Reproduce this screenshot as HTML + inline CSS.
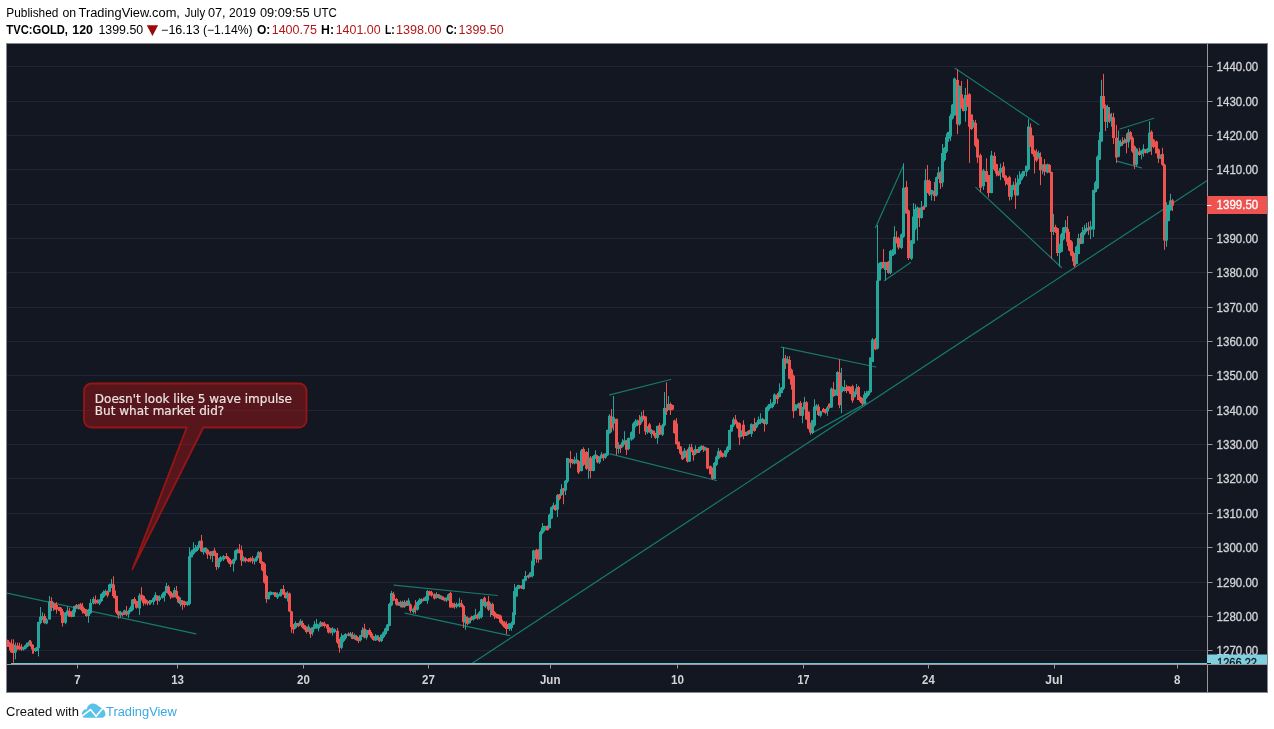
<!DOCTYPE html>
<html lang="en"><head><meta charset="utf-8"><title>TVC:GOLD chart</title>
<style>html,body{margin:0;padding:0;background:#fff}body{width:1274px;height:729px;position:relative;overflow:hidden}</style></head>
<body>
<svg width="1274" height="729" viewBox="0 0 1274 729" style="position:absolute;left:0;top:0;will-change:transform">
<rect x="6" y="43" width="1262" height="650" fill="#85878c"/>
<rect x="7" y="44" width="1260" height="648" fill="#131722"/>
<path d="M7 66.5H1207M7 101.5H1207M7 135.5H1207M7 169.5H1207M7 204.5H1207M7 238.5H1207M7 272.5H1207M7 307.5H1207M7 341.5H1207M7 375.5H1207M7 410.5H1207M7 444.5H1207M7 478.5H1207M7 513.5H1207M7 547.5H1207M7 582.5H1207M7 616.5H1207M7 650.5H1207" stroke="#212535" stroke-width="1" fill="none"/>
<clipPath id="pane"><rect x="7" y="44" width="1200" height="620"/></clipPath>
<g clip-path="url(#pane)">
<g stroke="#167a6c" stroke-width="1.2" fill="none" stroke-linecap="round">
<path d="M7 593.2L196 633.8"/>
<path d="M394 585.1L497.3 595.5"/>
<path d="M405 613.2L509.7 635.6"/>
<path d="M609.7 394.8L670.7 379.5"/>
<path d="M610 453.9L716.5 480.5"/>
<path d="M781.2 347.1L875.9 367"/>
<path d="M813.3 432.4L866.9 402.9"/>
<path d="M875.4 227.7L903.3 165.8"/>
<path d="M884.6 280.5L910.6 262.5"/>
<path d="M955.1 68.3L1038.9 124.7"/>
<path d="M975.8 187.4L1061.5 267.5"/>
<path d="M1119.9 129L1153.9 118.3"/>
<path d="M1116.8 161.2L1141.4 167.8"/>
<path d="M472.6 663L1206.5 181"/>
</g>
<path d="M11 663.5H1207" stroke="#6cc5d8" stroke-width="1"/>
<g fill="none" stroke-width="1">
<path d="M7.5 639.7V646.9M9.5 641.5V650.3M11.5 639.3V652.9M13.5 639.3V662.6" stroke="#ef5350" fill="none"/>
<path d="M6 640v6.9h3v-6.9zM8 642.7v4.1h3v-4.1zM10 643.4v8.9h3v-8.9zM12 644.8v8.2h3v-8.2z" fill="#ef5350" stroke="none"/>
<path d="M15.5 642.7V659.2" stroke="#26a69a" fill="none"/>
<path d="M14 646.8v5.5h3v-5.5z" fill="#26a69a" stroke="none"/>
<path d="M17.5 642.7V649.8M19.5 642.7V650.2M21.5 644.1V651" stroke="#ef5350" fill="none"/>
<path d="M16 645.5v3.4h3v-3.4zM18 646.2v3.2h3v-3.2zM20 646.8v2.7h3v-2.7z" fill="#ef5350" stroke="none"/>
<path d="M23.5 646.7V650.5M25.5 644.4V649.4M27.5 642.7V647.2M29.5 640V645.6" stroke="#26a69a" fill="none"/>
<path d="M22 647.5v2.1h3v-2.1zM24 645.2v3.3h3v-3.3zM26 642.7v3.8h3v-3.8zM28 641.4v2.7h3v-2.7z" fill="#26a69a" stroke="none"/>
<path d="M30.5 640V646.8M32.5 644.1V653.7M33.5 646.9V653.7" stroke="#ef5350" fill="none"/>
<path d="M29 641.4v4.1h3v-4.1zM31 644.8v4.8h3v-4.8zM32 648.2v2.7h3v-2.7z" fill="#ef5350" stroke="none"/>
<path d="M35.5 647.7V652M37.5 646.2V651.1M38.5 621.8V656.4M40.5 607V624.3M42.5 612.3V620.2" stroke="#26a69a" fill="none"/>
<path d="M34 648.2v2.7h3v-2.7zM36 646.8v2.7h3v-2.7zM37 622.1v26.1h3v-26.1zM39 616.7v6.2h3v-6.2zM41 616v3.4h3v-3.4z" fill="#26a69a" stroke="none"/>
<path d="M44.5 613.6V623.7" stroke="#ef5350" fill="none"/>
<path d="M43 616v6.9h3v-6.9z" fill="#ef5350" stroke="none"/>
<path d="M46.5 618V624.3M49.5 596.1V619.4" stroke="#26a69a" fill="none"/>
<path d="M45 619.4v4.1h3v-4.1zM48 601.6v17.8h3v-17.8z" fill="#26a69a" stroke="none"/>
<path d="M51.5 597.2V611.2" stroke="#ef5350" fill="none"/>
<path d="M50 600.9v6.9h3v-6.9z" fill="#ef5350" stroke="none"/>
<path d="M53.5 602.1V610.9" stroke="#26a69a" fill="none"/>
<path d="M52 603.6v4.1h3v-4.1z" fill="#26a69a" stroke="none"/>
<path d="M54.5 603.3V609.8M56.5 602.2V613.6M59.5 606.8V611.4M61.5 607.6V616.2M62.5 610.9V626.5" stroke="#ef5350" fill="none"/>
<path d="M53 603.6v4.8h3v-4.8zM55 605v4.8h3v-4.8zM58 607v4.1h3v-4.1zM60 609.1v6.2h3v-6.2zM61 611.2v11.7h3v-11.7z" fill="#ef5350" stroke="none"/>
<path d="M65.5 612V624.2M67.5 606.4V615.6" stroke="#26a69a" fill="none"/>
<path d="M64 612.5v10.3h3v-10.3zM66 610.5v4.1h3v-4.1z" fill="#26a69a" stroke="none"/>
<path d="M69.5 608.1V616.7M71.5 611.2V617.3" stroke="#ef5350" fill="none"/>
<path d="M68 611.2v5.5h3v-5.5zM70 611.9v4.8h3v-4.8z" fill="#ef5350" stroke="none"/>
<path d="M73.5 608.9V617M74.5 605.8V613.7" stroke="#26a69a" fill="none"/>
<path d="M72 609.8v6.9h3v-6.9zM73 606v6.6h3v-6.6z" fill="#26a69a" stroke="none"/>
<path d="M76.5 604V608.9" stroke="#ef5350" fill="none"/>
<path d="M75 605v2.7h3v-2.7z" fill="#ef5350" stroke="none"/>
<path d="M78.5 603.9V609.7" stroke="#26a69a" fill="none"/>
<path d="M77 605.4v3h3v-3z" fill="#26a69a" stroke="none"/>
<path d="M80.5 602.9V609.8M82.5 602.9V613.6M84.5 607.9V613.9M86.5 609.1V616.9" stroke="#ef5350" fill="none"/>
<path d="M79 604.3v4.8h3v-4.8zM81 606.4v4.8h3v-4.8zM83 609.1v4.1h3v-4.1zM85 610.5v5.5h3v-5.5z" fill="#ef5350" stroke="none"/>
<path d="M88.5 608.8V622.8M90.5 599.1V614M93.5 596.8V604.4" stroke="#26a69a" fill="none"/>
<path d="M87 609.8v6.2h3v-6.2zM89 602.9v10.3h3v-10.3zM92 599.1v4.5h3v-4.5z" fill="#26a69a" stroke="none"/>
<path d="M95.5 595.4V604.2M97.5 599.3V603.6" stroke="#ef5350" fill="none"/>
<path d="M94 599.9v2.7h3v-2.7zM96 600.5v2.7h3v-2.7z" fill="#ef5350" stroke="none"/>
<path d="M99.5 599.4V605.2M101.5 593.3V601.9M103.5 590.4V598M105.5 589.4V595.7" stroke="#26a69a" fill="none"/>
<path d="M98 599.5v4.1h3v-4.1zM100 594v6.9h3v-6.9zM102 592v4.8h3v-4.8zM104 590.9v3.8h3v-3.8z" fill="#26a69a" stroke="none"/>
<path d="M107.5 590.5V597.4" stroke="#ef5350" fill="none"/>
<path d="M106 591.3v4.1h3v-4.1z" fill="#ef5350" stroke="none"/>
<path d="M109.5 583.8V592.4M111.5 578.9V588" stroke="#26a69a" fill="none"/>
<path d="M108 584.4v7.3h3v-7.3zM110 583.7v4.1h3v-4.1z" fill="#26a69a" stroke="none"/>
<path d="M113.5 576.2V598.1M114.5 589.1V598.5M116.5 595.6V614M118.5 610.6V618.7" stroke="#ef5350" fill="none"/>
<path d="M112 584.4v11.7h3v-11.7zM113 590.6v6.9h3v-6.9zM115 596.1v16.5h3v-16.5zM117 611.2v4.1h3v-4.1z" fill="#ef5350" stroke="none"/>
<path d="M120.5 610.9V617.3" stroke="#26a69a" fill="none"/>
<path d="M119 611.9v3.4h3v-3.4z" fill="#26a69a" stroke="none"/>
<path d="M122.5 612.3V616.5" stroke="#ef5350" fill="none"/>
<path d="M121 613.2v1.8h3v-1.8z" fill="#ef5350" stroke="none"/>
<path d="M124.5 609.7V615.1" stroke="#26a69a" fill="none"/>
<path d="M123 610.5v3.2h3v-3.2z" fill="#26a69a" stroke="none"/>
<path d="M126.5 606V616" stroke="#ef5350" fill="none"/>
<path d="M125 611.2v3.4h3v-3.4z" fill="#ef5350" stroke="none"/>
<path d="M128.5 609.7V617.8M130.5 606.2V612.3M132.5 599.3V611.1" stroke="#26a69a" fill="none"/>
<path d="M127 611.2v3h3v-3zM129 607.7v4.1h3v-4.1zM131 599.5v10.3h3v-10.3z" fill="#26a69a" stroke="none"/>
<path d="M134.5 597.2V604M136.5 600.7V608.6" stroke="#ef5350" fill="none"/>
<path d="M133 599.1v3.8h3v-3.8zM135 600.9v6.9h3v-6.9z" fill="#ef5350" stroke="none"/>
<path d="M139.5 593.3V615" stroke="#26a69a" fill="none"/>
<path d="M138 595.4v13h3v-13z" fill="#26a69a" stroke="none"/>
<path d="M141.5 587.2V600.7M143.5 595.4V605.7M145.5 598.5V604.6M147.5 600.2V605.4M149.5 600.5V604.9" stroke="#ef5350" fill="none"/>
<path d="M140 594.7v4.8h3v-4.8zM142 596.1v6.9h3v-6.9zM144 599.5v4.1h3v-4.1zM146 600.9v2.7h3v-2.7zM148 601.3v2.3h3v-2.3z" fill="#ef5350" stroke="none"/>
<path d="M150.5 600V604.7M153.5 597.1V604.9M155.5 592.2V600.6" stroke="#26a69a" fill="none"/>
<path d="M149 600v3.3h3v-3.3zM152 598.3v3.8h3v-3.8zM154 595v4.1h3v-4.1z" fill="#26a69a" stroke="none"/>
<path d="M157.5 595.5V604.9" stroke="#ef5350" fill="none"/>
<path d="M156 595.8v4.9h3v-4.9z" fill="#ef5350" stroke="none"/>
<path d="M159.5 595.4V601.6M162.5 592.6V598.8M164.5 591.3V601.6M166.5 583V592.9" stroke="#26a69a" fill="none"/>
<path d="M158 596.7v3.3h3v-3.3zM161 594.2v3.6h3v-3.6zM163 591.7v4.1h3v-4.1zM165 586v6.6h3v-6.6z" fill="#26a69a" stroke="none"/>
<path d="M168.5 585.1V594.8M170.5 591.1V599.1M172.5 593.1V597.5" stroke="#ef5350" fill="none"/>
<path d="M167 586.8v6.6h3v-6.6zM169 591.7v4.9h3v-4.9zM171 594.2v3.3h3v-3.3z" fill="#ef5350" stroke="none"/>
<path d="M174.5 587.6V597.4" stroke="#26a69a" fill="none"/>
<path d="M173 590.1v5.8h3v-5.8z" fill="#26a69a" stroke="none"/>
<path d="M176.5 586V598.8M178.5 595.7V603.2" stroke="#ef5350" fill="none"/>
<path d="M175 590.9v6.6h3v-6.6zM177 596.7v5.8h3v-5.8z" fill="#ef5350" stroke="none"/>
<path d="M180.5 597.5V606.5" stroke="#26a69a" fill="none"/>
<path d="M179 600v4.1h3v-4.1z" fill="#26a69a" stroke="none"/>
<path d="M182.5 600V609.8M184.5 600.7V607.4" stroke="#ef5350" fill="none"/>
<path d="M181 600.8v4.1h3v-4.1zM183 601.6v3.3h3v-3.3z" fill="#ef5350" stroke="none"/>
<path d="M187.5 601.3V606M189.5 547.3V605.3M191.5 549.9V557.4M193.5 542.3V554.9M195.5 544.8V552.4M197.5 545.1V551.1M199.5 540.6V548.1" stroke="#26a69a" fill="none"/>
<path d="M186 601.6v3.3h3v-3.3zM188 556.3v47.7h3v-47.7zM190 551.4v5.8h3v-5.8zM192 549.4v4.4h3v-4.4zM194 547.8v4h3v-4zM196 546.5v3.6h3v-3.6zM198 541.2v6.9h3v-6.9z" fill="#26a69a" stroke="none"/>
<path d="M201.5 534.9V552.1" stroke="#ef5350" fill="none"/>
<path d="M200 540.7v10.7h3v-10.7z" fill="#ef5350" stroke="none"/>
<path d="M203.5 547.7V554.7M205.5 547.3V552.9" stroke="#26a69a" fill="none"/>
<path d="M202 548.4v3.8h3v-3.8zM204 547.8v3.6h3v-3.6z" fill="#26a69a" stroke="none"/>
<path d="M207.5 548.8V558.8M210.5 551.3V559.3" stroke="#ef5350" fill="none"/>
<path d="M206 549.8v4.6h3v-4.6zM209 551.4v4.1h3v-4.1z" fill="#ef5350" stroke="none"/>
<path d="M212.5 550.8V562.1" stroke="#26a69a" fill="none"/>
<path d="M211 551.4v4.6h3v-4.6z" fill="#26a69a" stroke="none"/>
<path d="M214.5 547.8V556.1M216.5 552.7V570" stroke="#ef5350" fill="none"/>
<path d="M213 550.6v4.1h3v-4.1zM215 553v14h3v-14z" fill="#ef5350" stroke="none"/>
<path d="M218.5 558.2V568.5M220.5 556.1V562.2M223.5 555.1V561.1" stroke="#26a69a" fill="none"/>
<path d="M217 559.6v7.4h3v-7.4zM219 557.2v4.1h3v-4.1zM222 556.3v3.3h3v-3.3z" fill="#26a69a" stroke="none"/>
<path d="M226.5 553V559.3M228.5 556.6V563.5M230.5 558.9V567" stroke="#ef5350" fill="none"/>
<path d="M225 556v2.8h3v-2.8zM227 557.7v4.4h3v-4.4zM229 560.5v3.8h3v-3.8z" fill="#ef5350" stroke="none"/>
<path d="M233.5 558.7V571.6M235.5 549.7V561M237.5 548.4V553.6" stroke="#26a69a" fill="none"/>
<path d="M232 559.6v4.1h3v-4.1zM234 550.6v9.1h3v-9.1zM236 549.4v3.6h3v-3.6z" fill="#26a69a" stroke="none"/>
<path d="M239.5 544V553.6M241.5 545.6V565.9" stroke="#ef5350" fill="none"/>
<path d="M238 549.8v3.3h3v-3.3zM240 550.6v9.9h3v-9.9z" fill="#ef5350" stroke="none"/>
<path d="M243.5 556.2V561.5" stroke="#26a69a" fill="none"/>
<path d="M242 557.7v3.6h3v-3.6z" fill="#26a69a" stroke="none"/>
<path d="M245.5 557.2V562.6M248.5 558V562.2M250.5 557.2V562.2M252.5 556V563.7" stroke="#ef5350" fill="none"/>
<path d="M244 558.3v2.6h3v-2.6zM247 559.3v2.3h3v-2.3zM249 558.3v2.6h3v-2.6zM251 558.3v2.6h3v-2.6z" fill="#ef5350" stroke="none"/>
<path d="M254.5 558.6V564.6M256.5 555.6V561.7M258.5 551.1V558.2" stroke="#26a69a" fill="none"/>
<path d="M253 558.8v2.8h3v-2.8zM255 557.2v3.3h3v-3.3zM257 552.2v5.4h3v-5.4z" fill="#26a69a" stroke="none"/>
<path d="M260.5 551V563.8M262.5 561.1V571.3M264.5 562.5V583.6M266.5 575.1V602.9" stroke="#ef5350" fill="none"/>
<path d="M259 552.2v10.7h3v-10.7zM261 562.1v8.2h3v-8.2zM263 563.7v18.9h3v-18.9zM265 576.1v23h3v-23z" fill="#ef5350" stroke="none"/>
<path d="M268.5 592.1V599.3M270.5 591.4V595.5M273.5 592.1V595.2" stroke="#26a69a" fill="none"/>
<path d="M267 592.6v6.6h3v-6.6zM269 591.7v3.3h3v-3.3zM272 592.2v2.3h3v-2.3z" fill="#26a69a" stroke="none"/>
<path d="M275.5 591.9V596.8" stroke="#ef5350" fill="none"/>
<path d="M274 592.6v4.1h3v-4.1z" fill="#ef5350" stroke="none"/>
<path d="M277.5 592.4V599.1M280.5 591.6V596.6M281.5 588.8V595.3" stroke="#26a69a" fill="none"/>
<path d="M276 593.9v3.6h3v-3.6zM279 592.2v4h3v-4zM280 589.3v4.9h3v-4.9z" fill="#26a69a" stroke="none"/>
<path d="M283.5 585.1V594.8M285.5 592.5V598.6" stroke="#ef5350" fill="none"/>
<path d="M282 588.9v5.6h3v-5.6zM284 592.6v5.3h3v-5.3z" fill="#ef5350" stroke="none"/>
<path d="M287.5 591.2V601.6" stroke="#26a69a" fill="none"/>
<path d="M286 593.4v4.9h3v-4.9z" fill="#26a69a" stroke="none"/>
<path d="M289.5 592.5V611.8M291.5 610.9V632.9M293.5 624.1V633.7" stroke="#ef5350" fill="none"/>
<path d="M288 593.4v18.1h3v-18.1zM290 611.5v15.6h3v-15.6zM292 624.7v4.9h3v-4.9z" fill="#ef5350" stroke="none"/>
<path d="M295.5 621.4V628.8" stroke="#26a69a" fill="none"/>
<path d="M294 623v4.9h3v-4.9z" fill="#26a69a" stroke="none"/>
<path d="M298.5 622.9V627" stroke="#ef5350" fill="none"/>
<path d="M297 623v3.3h3v-3.3z" fill="#ef5350" stroke="none"/>
<path d="M300.5 619V625.2" stroke="#26a69a" fill="none"/>
<path d="M299 621.1v4.1h3v-4.1z" fill="#26a69a" stroke="none"/>
<path d="M302.5 620.4V628.3M304.5 624.8V630.2M306.5 626.4V633.4" stroke="#ef5350" fill="none"/>
<path d="M301 623.1v4.1h3v-4.1zM303 625.2v4.1h3v-4.1zM305 627.2v4.8h3v-4.8z" fill="#ef5350" stroke="none"/>
<path d="M308.5 624.5V631.8" stroke="#26a69a" fill="none"/>
<path d="M307 626.6v4.1h3v-4.1z" fill="#26a69a" stroke="none"/>
<path d="M310.5 628.1V637.9" stroke="#ef5350" fill="none"/>
<path d="M309 628.6v5.5h3v-5.5z" fill="#ef5350" stroke="none"/>
<path d="M312.5 627.1V635.5M314.5 621.1V629.5M316.5 619V628.9M318.5 624.4V631.4M320.5 621.1V627.1" stroke="#26a69a" fill="none"/>
<path d="M311 627.2v5.2h3v-5.2zM313 624.5v4.1h3v-4.1zM315 623.8v4.1h3v-4.1zM317 625.2v3.4h3v-3.4zM319 622.4v4.1h3v-4.1z" fill="#26a69a" stroke="none"/>
<path d="M322.5 622.1V626.4M324.5 621.8V627.6M327.5 624V629.3M328.5 626.9V633.5M330.5 627.8V633.5" stroke="#ef5350" fill="none"/>
<path d="M321 622.4v2.7h3v-2.7zM323 623.4v2.7h3v-2.7zM326 624.5v4.1h3v-4.1zM327 627.2v5.2h3v-5.2zM329 628.6v3.8h3v-3.8z" fill="#ef5350" stroke="none"/>
<path d="M332.5 627.2V635.5M334.5 628.5V633.2" stroke="#26a69a" fill="none"/>
<path d="M331 628.6v3.8h3v-3.8zM333 629.3v2.7h3v-2.7z" fill="#26a69a" stroke="none"/>
<path d="M337.5 627.9V643.8M339.5 638.7V652.6" stroke="#ef5350" fill="none"/>
<path d="M336 630.7v11.7h3v-11.7zM338 638.9v8.9h3v-8.9z" fill="#ef5350" stroke="none"/>
<path d="M341.5 633.4V649.2M343.5 634.9V642.3M345.5 633.2V639.6" stroke="#26a69a" fill="none"/>
<path d="M340 636.8v11h3v-11zM342 635.2v5.8h3v-5.8zM344 634.1v4.1h3v-4.1z" fill="#26a69a" stroke="none"/>
<path d="M348.5 632.4V636.4" stroke="#ef5350" fill="none"/>
<path d="M347 633.8v1.9h3v-1.9z" fill="#ef5350" stroke="none"/>
<path d="M350.5 631.9V636.9" stroke="#26a69a" fill="none"/>
<path d="M349 633.4v2.7h3v-2.7z" fill="#26a69a" stroke="none"/>
<path d="M352.5 632V639.2" stroke="#ef5350" fill="none"/>
<path d="M351 634.8v4.1h3v-4.1z" fill="#ef5350" stroke="none"/>
<path d="M354.5 633.6V639.6" stroke="#26a69a" fill="none"/>
<path d="M353 635.2v3.3h3v-3.3z" fill="#26a69a" stroke="none"/>
<path d="M356.5 635V640.5M358.5 637.3V643" stroke="#ef5350" fill="none"/>
<path d="M355 636.2v4.1h3v-4.1zM357 637.5v3.4h3v-3.4z" fill="#ef5350" stroke="none"/>
<path d="M360.5 634.9V641.5M362.5 627.2V636.8" stroke="#26a69a" fill="none"/>
<path d="M359 635.2v5.1h3v-5.1zM361 630v6.2h3v-6.2z" fill="#26a69a" stroke="none"/>
<path d="M364.5 623.8V638.4" stroke="#ef5350" fill="none"/>
<path d="M363 628.6v8.9h3v-8.9z" fill="#ef5350" stroke="none"/>
<path d="M366.5 629.8V639.6" stroke="#26a69a" fill="none"/>
<path d="M365 630v7.5h3v-7.5z" fill="#26a69a" stroke="none"/>
<path d="M369.5 628.3V635.3M371.5 631.9V638.5M373.5 635.7V640.8" stroke="#ef5350" fill="none"/>
<path d="M368 630v4.8h3v-4.8zM370 633.4v4.1h3v-4.1zM372 636.2v3.7h3v-3.7z" fill="#ef5350" stroke="none"/>
<path d="M375.5 634.1V641M377.5 635.1V640.2" stroke="#26a69a" fill="none"/>
<path d="M374 636.8v3.8h3v-3.8zM376 635.5v4.1h3v-4.1z" fill="#26a69a" stroke="none"/>
<path d="M379.5 637.1V642.1" stroke="#ef5350" fill="none"/>
<path d="M378 637.5v3.7h3v-3.7z" fill="#ef5350" stroke="none"/>
<path d="M381.5 634.4V642.1M383.5 631.3V638.3M385.5 627.6V635.2M387.5 624.1V631.3M389.5 602.7V626.2M391.5 590.9V606.3" stroke="#26a69a" fill="none"/>
<path d="M380 634.8v6.2h3v-6.2zM382 632.5v4.4h3v-4.4zM384 628.6v5.5h3v-5.5zM386 624.5v6.2h3v-6.2zM388 603.9v22h3v-22zM390 592.9v12.3h3v-12.3z" fill="#26a69a" stroke="none"/>
<path d="M393.5 591.8V601M396.5 597.9V605.7M398.5 601.8V605.6" stroke="#ef5350" fill="none"/>
<path d="M392 594.3v6.2h3v-6.2zM395 599.1v5.5h3v-5.5zM397 601.9v3.7h3v-3.7z" fill="#ef5350" stroke="none"/>
<path d="M400.5 600.6V607.3" stroke="#26a69a" fill="none"/>
<path d="M399 601.9v4.1h3v-4.1z" fill="#26a69a" stroke="none"/>
<path d="M402.5 600.8V607.4" stroke="#ef5350" fill="none"/>
<path d="M401 601.9v5.5h3v-5.5z" fill="#ef5350" stroke="none"/>
<path d="M404.5 600.1V607.8" stroke="#26a69a" fill="none"/>
<path d="M403 601.9v4.8h3v-4.8z" fill="#26a69a" stroke="none"/>
<path d="M406.5 600.5V606" stroke="#ef5350" fill="none"/>
<path d="M405 601.9v4.1h3v-4.1z" fill="#ef5350" stroke="none"/>
<path d="M408.5 598.1V605.7" stroke="#26a69a" fill="none"/>
<path d="M407 600.5v4.8h3v-4.8z" fill="#26a69a" stroke="none"/>
<path d="M410.5 603.4V612.8" stroke="#ef5350" fill="none"/>
<path d="M409 604.6v6.2h3v-6.2z" fill="#ef5350" stroke="none"/>
<path d="M413.5 607.4V613.8" stroke="#26a69a" fill="none"/>
<path d="M412 608.7v3.4h3v-3.4z" fill="#26a69a" stroke="none"/>
<path d="M415.5 600.1V613.8" stroke="#ef5350" fill="none"/>
<path d="M414 605.3v4.8h3v-4.8z" fill="#ef5350" stroke="none"/>
<path d="M417.5 601.2V610.7M419.5 598.1V605.1M421.5 598.3V603.4" stroke="#26a69a" fill="none"/>
<path d="M416 601.9v7.5h3v-7.5zM418 599.8v4.1h3v-4.1zM420 599.1v2.7h3v-2.7z" fill="#26a69a" stroke="none"/>
<path d="M423.5 597.6V601.2" stroke="#ef5350" fill="none"/>
<path d="M422 599.1v1.8h3v-1.8z" fill="#ef5350" stroke="none"/>
<path d="M425.5 596.2V601M427.5 589.9V603.9" stroke="#26a69a" fill="none"/>
<path d="M424 597.3v3.6h3v-3.6zM426 590.9v9.6h3v-9.6z" fill="#26a69a" stroke="none"/>
<path d="M429.5 590.8V595.7M431.5 590.8V596.7M434.5 593.3V599.5" stroke="#ef5350" fill="none"/>
<path d="M428 591.3v3.7h3v-3.7zM430 592.2v3.2h3v-3.2zM433 594.3v4.1h3v-4.1z" fill="#ef5350" stroke="none"/>
<path d="M436.5 592.2V598.6" stroke="#26a69a" fill="none"/>
<path d="M435 594.3v3.4h3v-3.4z" fill="#26a69a" stroke="none"/>
<path d="M438.5 594.2V598.2" stroke="#ef5350" fill="none"/>
<path d="M437 594.3v3.4h3v-3.4z" fill="#ef5350" stroke="none"/>
<path d="M440.5 595.2V599.2" stroke="#26a69a" fill="none"/>
<path d="M439 595.4v3.7h3v-3.7z" fill="#26a69a" stroke="none"/>
<path d="M442.5 596.3V600.1M444.5 597.7V601.4" stroke="#ef5350" fill="none"/>
<path d="M441 596.4v3.4h3v-3.4zM443 597.7v2.7h3v-2.7z" fill="#ef5350" stroke="none"/>
<path d="M446.5 597.3V602.1M448.5 593.7V600.7" stroke="#26a69a" fill="none"/>
<path d="M445 597.7v2.7h3v-2.7zM447 594.6v4.5h3v-4.5z" fill="#26a69a" stroke="none"/>
<path d="M450.5 591.7V607.6M452.5 602.7V607.8M454.5 602.6V608.8" stroke="#ef5350" fill="none"/>
<path d="M449 593v14.4h3v-14.4zM451 603.3v4.1h3v-4.1zM453 604v2.5h3v-2.5z" fill="#ef5350" stroke="none"/>
<path d="M456.5 602.5V608.3M459.5 597.8V607.4" stroke="#26a69a" fill="none"/>
<path d="M455 604v2.7h3v-2.7zM458 603.3v3.2h3v-3.2z" fill="#26a69a" stroke="none"/>
<path d="M461.5 599.9V607.4M463.5 604.8V628" stroke="#ef5350" fill="none"/>
<path d="M460 603.3v3.4h3v-3.4zM462 606.1v15.8h3v-15.8z" fill="#ef5350" stroke="none"/>
<path d="M465.5 615V629.8" stroke="#26a69a" fill="none"/>
<path d="M464 616.4v6.2h3v-6.2z" fill="#26a69a" stroke="none"/>
<path d="M467.5 616.5V625.3" stroke="#ef5350" fill="none"/>
<path d="M466 617.7v6.2h3v-6.2z" fill="#ef5350" stroke="none"/>
<path d="M469.5 617.8V623.4" stroke="#26a69a" fill="none"/>
<path d="M468 619.1v4.1h3v-4.1z" fill="#26a69a" stroke="none"/>
<path d="M471.5 615.7V620.7" stroke="#ef5350" fill="none"/>
<path d="M470 617v2.7h3v-2.7z" fill="#ef5350" stroke="none"/>
<path d="M473.5 615.5V620.6M475.5 608.8V618.9" stroke="#26a69a" fill="none"/>
<path d="M472 616.1v3.3h3v-3.3zM474 614.7v3.3h3v-3.3z" fill="#26a69a" stroke="none"/>
<path d="M477.5 613.6V619.8" stroke="#ef5350" fill="none"/>
<path d="M476 615.3v3.2h3v-3.2z" fill="#ef5350" stroke="none"/>
<path d="M479.5 611V619.3M481.5 598.8V618.5" stroke="#26a69a" fill="none"/>
<path d="M478 612.2v5.5h3v-5.5zM480 599.2v17.8h3v-17.8z" fill="#26a69a" stroke="none"/>
<path d="M484.5 596.5V606.5" stroke="#ef5350" fill="none"/>
<path d="M483 597.8v8.2h3v-8.2z" fill="#ef5350" stroke="none"/>
<path d="M485.5 601.3V608.1" stroke="#26a69a" fill="none"/>
<path d="M484 601.9v4.5h3v-4.5z" fill="#26a69a" stroke="none"/>
<path d="M488.5 596V611" stroke="#ef5350" fill="none"/>
<path d="M487 601.3v8.2h3v-8.2z" fill="#ef5350" stroke="none"/>
<path d="M490.5 602.6V617" stroke="#26a69a" fill="none"/>
<path d="M489 605.4v4.1h3v-4.1z" fill="#26a69a" stroke="none"/>
<path d="M492.5 602.6V615.4M494.5 611V619.1M496.5 613.5V618.4M498.5 614.3V619M500.5 614.7V623.5M502.5 619.6V625.9M504.5 621.1V628M506.5 621.2V634.2" stroke="#ef5350" fill="none"/>
<path d="M491 604v11h3v-11zM493 612.2v4.1h3v-4.1zM495 613.9v3.6h3v-3.6zM497 614.7v3.7h3v-3.7zM499 615.7v6.9h3v-6.9zM501 621.2v3.4h3v-3.4zM503 622.5v4.8h3v-4.8zM505 623.9v5.1h3v-5.1z" fill="#ef5350" stroke="none"/>
<path d="M509.5 623.1V630.8M511.5 621.7V630.8M513.5 611.3V625M514.5 584.1V616.1M516.5 586.4V596.8M518.5 584.7V589.2" stroke="#26a69a" fill="none"/>
<path d="M508 623.2v5.8h3v-5.8zM510 623.2v4.8h3v-4.8zM512 612.2v12.3h3v-12.3zM513 591v24h3v-24zM515 587.5v8.9h3v-8.9zM517 585.1v3.8h3v-3.8z" fill="#26a69a" stroke="none"/>
<path d="M521.5 585.2V589" stroke="#ef5350" fill="none"/>
<path d="M520 585.5v2.7h3v-2.7z" fill="#ef5350" stroke="none"/>
<path d="M523.5 578.9V589.6M525.5 571.1V581.4" stroke="#26a69a" fill="none"/>
<path d="M522 579.3v9.6h3v-9.6zM524 575.9v4.8h3v-4.8z" fill="#26a69a" stroke="none"/>
<path d="M528.5 574.4V578.6" stroke="#ef5350" fill="none"/>
<path d="M527 575.2v2.2h3v-2.2z" fill="#ef5350" stroke="none"/>
<path d="M530.5 572.1V577.3M532.5 560V577.4M533.5 549.8V565.9" stroke="#26a69a" fill="none"/>
<path d="M529 572.4v4.4h3v-4.4zM531 560.8v15.1h3v-15.1zM532 550.5v15.1h3v-15.1z" fill="#26a69a" stroke="none"/>
<path d="M536.5 548.8V562.8M538.5 549.1V562.8" stroke="#ef5350" fill="none"/>
<path d="M535 549.8v8.9h3v-8.9zM537 555.3v4.1h3v-4.1z" fill="#ef5350" stroke="none"/>
<path d="M540.5 530.5V559.4M542.5 523V534.3M544.5 525.7V531.6" stroke="#26a69a" fill="none"/>
<path d="M539 532.1v27.3h3v-27.3zM541 527.5v5.3h3v-5.3zM543 526v4.2h3v-4.2z" fill="#26a69a" stroke="none"/>
<path d="M547.5 525.3V530.6" stroke="#ef5350" fill="none"/>
<path d="M546 526v4.2h3v-4.2z" fill="#ef5350" stroke="none"/>
<path d="M549.5 513.6V528.3M551.5 506.5V519.2M553.5 502.6V509.3" stroke="#26a69a" fill="none"/>
<path d="M548 514.7v13.6h3v-13.6zM550 507.2v11.3h3v-11.3zM552 505.2v3.9h3v-3.9z" fill="#26a69a" stroke="none"/>
<path d="M555.5 504.5V510.9" stroke="#ef5350" fill="none"/>
<path d="M554 505.7v4.5h3v-4.5z" fill="#ef5350" stroke="none"/>
<path d="M557.5 494.1V517" stroke="#26a69a" fill="none"/>
<path d="M556 495.1v14.3h3v-14.3z" fill="#26a69a" stroke="none"/>
<path d="M559.5 493.9V500.3" stroke="#ef5350" fill="none"/>
<path d="M558 494.3v4.5h3v-4.5z" fill="#ef5350" stroke="none"/>
<path d="M561.5 484.1V495.7" stroke="#26a69a" fill="none"/>
<path d="M560 489.1v6h3v-6z" fill="#26a69a" stroke="none"/>
<path d="M563.5 487.8V504.2" stroke="#ef5350" fill="none"/>
<path d="M562 488.3v3h3v-3z" fill="#ef5350" stroke="none"/>
<path d="M565.5 480.1V495.1M567.5 457.9V483" stroke="#26a69a" fill="none"/>
<path d="M564 480.8v9.8h3v-9.8zM566 458.1v23.4h3v-23.4z" fill="#26a69a" stroke="none"/>
<path d="M570.5 450.9V467.9M572.5 459.2V464.2" stroke="#ef5350" fill="none"/>
<path d="M569 458.9v3.8h3v-3.8zM571 459.6v3.3h3v-3.3z" fill="#ef5350" stroke="none"/>
<path d="M574.5 456.6V464.3M576.5 452.8V463.7" stroke="#26a69a" fill="none"/>
<path d="M573 460.4v3h3v-3zM575 459.6v3h3v-3z" fill="#26a69a" stroke="none"/>
<path d="M578.5 459.9V474" stroke="#ef5350" fill="none"/>
<path d="M577 461.1v11.3h3v-11.3z" fill="#ef5350" stroke="none"/>
<path d="M581.5 448.9V471.5" stroke="#26a69a" fill="none"/>
<path d="M580 450.5v20.5h3v-20.5z" fill="#26a69a" stroke="none"/>
<path d="M583.5 447.3V466M586.5 451.1V469.9" stroke="#ef5350" fill="none"/>
<path d="M582 448.9v15.8h3v-15.8zM585 452.1v16.6h3v-16.6z" fill="#ef5350" stroke="none"/>
<path d="M588.5 448.1V478.9" stroke="#26a69a" fill="none"/>
<path d="M587 458.4v7.9h3v-7.9z" fill="#26a69a" stroke="none"/>
<path d="M590.5 456V478.1" stroke="#ef5350" fill="none"/>
<path d="M589 457.6v13.4h3v-13.4z" fill="#ef5350" stroke="none"/>
<path d="M593.5 455.3V471.3M595.5 450.2V459" stroke="#26a69a" fill="none"/>
<path d="M592 456v15h3v-15zM594 454.4v3.9h3v-3.9z" fill="#26a69a" stroke="none"/>
<path d="M597.5 455.1V463.4" stroke="#ef5350" fill="none"/>
<path d="M596 456v6.3h3v-6.3z" fill="#ef5350" stroke="none"/>
<path d="M599.5 456.3V463.9M601.5 452.1V458.5" stroke="#26a69a" fill="none"/>
<path d="M598 457.6v4.7h3v-4.7zM600 454.4v3.9h3v-3.9z" fill="#26a69a" stroke="none"/>
<path d="M603.5 453.5V460.7" stroke="#ef5350" fill="none"/>
<path d="M602 454.4v3.6h3v-3.6z" fill="#ef5350" stroke="none"/>
<path d="M605.5 453.2V458.9M607.5 429.5V456M609.5 414.2V433.8" stroke="#26a69a" fill="none"/>
<path d="M604 453.6v3.9h3v-3.9zM606 430v25.2h3v-25.2zM608 415.8v17.4h3v-17.4z" fill="#26a69a" stroke="none"/>
<path d="M611.5 409.1V432.3" stroke="#ef5350" fill="none"/>
<path d="M610 416.5v11.8h3v-11.8z" fill="#ef5350" stroke="none"/>
<path d="M613.5 396V430.7" stroke="#26a69a" fill="none"/>
<path d="M612 417.3v6.3h3v-6.3z" fill="#26a69a" stroke="none"/>
<path d="M616.5 418.6V455.2" stroke="#ef5350" fill="none"/>
<path d="M615 418.9v29.2h3v-29.2z" fill="#ef5350" stroke="none"/>
<path d="M618.5 442.3V453.6" stroke="#26a69a" fill="none"/>
<path d="M617 445v3.9h3v-3.9z" fill="#26a69a" stroke="none"/>
<path d="M620.5 444.2V452.8" stroke="#ef5350" fill="none"/>
<path d="M619 445v3.2h3v-3.2z" fill="#ef5350" stroke="none"/>
<path d="M622.5 439.1V447.6M624.5 431.2V444.8" stroke="#26a69a" fill="none"/>
<path d="M621 442.3v4.3h3v-4.3zM623 440.2v3.9h3v-3.9z" fill="#26a69a" stroke="none"/>
<path d="M626.5 439.9V454.9" stroke="#ef5350" fill="none"/>
<path d="M625 441v8.7h3v-8.7z" fill="#ef5350" stroke="none"/>
<path d="M628.5 437.5V450.2M631.5 431.4V440.7M633.5 422.2V439.4M635.5 419.2V427.5M637.5 419.6V426.2" stroke="#26a69a" fill="none"/>
<path d="M627 437.9v11h3v-11zM630 432.3v7.1h3v-7.1zM632 423.6v14.2h3v-14.2zM634 421.3v4.7h3v-4.7zM636 420.5v4.4h3v-4.4z" fill="#26a69a" stroke="none"/>
<path d="M639.5 415V433.9" stroke="#ef5350" fill="none"/>
<path d="M638 420.5v4.7h3v-4.7z" fill="#ef5350" stroke="none"/>
<path d="M641.5 411.8V423.6" stroke="#26a69a" fill="none"/>
<path d="M640 416.5v5.5h3v-5.5z" fill="#26a69a" stroke="none"/>
<path d="M643.5 410.2V420.3M645.5 416.4V435" stroke="#ef5350" fill="none"/>
<path d="M642 415.8v3.2h3v-3.2zM644 416.5v15h3v-15z" fill="#ef5350" stroke="none"/>
<path d="M647.5 426.1V433.9" stroke="#26a69a" fill="none"/>
<path d="M646 427.6v4.7h3v-4.7z" fill="#26a69a" stroke="none"/>
<path d="M649.5 422.9V432.5" stroke="#ef5350" fill="none"/>
<path d="M648 424.4v7.9h3v-7.9z" fill="#ef5350" stroke="none"/>
<path d="M651.5 428.9V437.9" stroke="#26a69a" fill="none"/>
<path d="M650 430v3.9h3v-3.9z" fill="#26a69a" stroke="none"/>
<path d="M653.5 430.6V435.8M655.5 432.8V438.9" stroke="#ef5350" fill="none"/>
<path d="M652 430.7v3.6h3v-3.6zM654 433.1v4.7h3v-4.7z" fill="#ef5350" stroke="none"/>
<path d="M657.5 425.8V443.8" stroke="#26a69a" fill="none"/>
<path d="M656 426v11.8h3v-11.8z" fill="#26a69a" stroke="none"/>
<path d="M659.5 422.9V435.1" stroke="#ef5350" fill="none"/>
<path d="M658 425.2v9.5h3v-9.5z" fill="#ef5350" stroke="none"/>
<path d="M662.5 423.8V436.1M664.5 392.1V426.6" stroke="#26a69a" fill="none"/>
<path d="M661 425.2v9.5h3v-9.5zM663 407.9v17.4h3v-17.4z" fill="#26a69a" stroke="none"/>
<path d="M666.5 382.3V415" stroke="#ef5350" fill="none"/>
<path d="M665 407.9v3.5h3v-3.5z" fill="#ef5350" stroke="none"/>
<path d="M668.5 396V410" stroke="#26a69a" fill="none"/>
<path d="M667 403.9v5.5h3v-5.5z" fill="#26a69a" stroke="none"/>
<path d="M670.5 402.4V415M672.5 404.8V410.3M674.5 419.7V433.8M676.5 418.1V444.7M678.5 441.6V449.4M680.5 446V454.8M682.5 451.4V459.9" stroke="#ef5350" fill="none"/>
<path d="M669 403.9v6.3h3v-6.3zM671 405v4.4h3v-4.4zM673 420.5v12.6h3v-12.6zM675 423.6v20.5h3v-20.5zM677 441.8v7.1h3v-7.1zM679 446.5v7.1h3v-7.1zM681 452.1v7.1h3v-7.1z" fill="#ef5350" stroke="none"/>
<path d="M684.5 448.1V458.2" stroke="#26a69a" fill="none"/>
<path d="M683 450.5v7.1h3v-7.1z" fill="#26a69a" stroke="none"/>
<path d="M687.5 449V462.5" stroke="#ef5350" fill="none"/>
<path d="M686 450.5v11h3v-11z" fill="#ef5350" stroke="none"/>
<path d="M689.5 444.2V461.9" stroke="#26a69a" fill="none"/>
<path d="M688 447.3v14.2h3v-14.2z" fill="#26a69a" stroke="none"/>
<path d="M691.5 443.8V452.1M693.5 450.1V460.7" stroke="#ef5350" fill="none"/>
<path d="M690 447.3v4.7h3v-4.7zM692 450.5v4.7h3v-4.7z" fill="#ef5350" stroke="none"/>
<path d="M695.5 445.4V454.9" stroke="#26a69a" fill="none"/>
<path d="M694 448.9v4.7h3v-4.7z" fill="#26a69a" stroke="none"/>
<path d="M697.5 449V452.9" stroke="#ef5350" fill="none"/>
<path d="M696 449.7v3.2h3v-3.2z" fill="#ef5350" stroke="none"/>
<path d="M699.5 446.7V452.9M701.5 445.4V450.1" stroke="#26a69a" fill="none"/>
<path d="M698 447v4.3h3v-4.3zM700 445.7v3.2h3v-3.2z" fill="#26a69a" stroke="none"/>
<path d="M703.5 445.5V452.1" stroke="#ef5350" fill="none"/>
<path d="M702 446.5v3.2h3v-3.2z" fill="#ef5350" stroke="none"/>
<path d="M705.5 447.2V450.8" stroke="#26a69a" fill="none"/>
<path d="M704 447.3v3.2h3v-3.2z" fill="#26a69a" stroke="none"/>
<path d="M707.5 447.9V469.3M710.5 465.5V474.2M712.5 467.7V479.7" stroke="#ef5350" fill="none"/>
<path d="M706 448.1v20.5h3v-20.5zM709 466.3v7.9h3v-7.9zM711 467.8v11h3v-11z" fill="#ef5350" stroke="none"/>
<path d="M714.5 462V479.3M716.5 455.5V466M718.5 448.1V459.4" stroke="#26a69a" fill="none"/>
<path d="M713 463.1v15.8h3v-15.8zM715 456.8v7.9h3v-7.9zM717 451.3v7.1h3v-7.1z" fill="#26a69a" stroke="none"/>
<path d="M720.5 449.8V457.5M722.5 452.8V457.7" stroke="#ef5350" fill="none"/>
<path d="M719 451.3v4.7h3v-4.7zM721 453.3v3.5h3v-3.5z" fill="#ef5350" stroke="none"/>
<path d="M725.5 450.2V457.6M727.5 445.8V453.3M729.5 429.8V449.9M731.5 424.6V431.6M733.5 417.3V427" stroke="#26a69a" fill="none"/>
<path d="M724 450.5v6.3h3v-6.3zM726 447.3v4.7h3v-4.7zM728 430.1v19.6h3v-19.6zM730 424.8v6.8h3v-6.8zM732 419.5v6h3v-6z" fill="#26a69a" stroke="none"/>
<path d="M735.5 415V424.3M737.5 421.5V428.9M739.5 422.5V445" stroke="#ef5350" fill="none"/>
<path d="M734 419.5v4.5h3v-4.5zM736 422.5v5.3h3v-5.3zM738 423.3v14.3h3v-14.3z" fill="#ef5350" stroke="none"/>
<path d="M741.5 430.4V437" stroke="#26a69a" fill="none"/>
<path d="M740 431.6v4.8h3v-4.8z" fill="#26a69a" stroke="none"/>
<path d="M743.5 420.3V439.2M745.5 431.8V435.9" stroke="#ef5350" fill="none"/>
<path d="M742 424.8v11.3h3v-11.3zM744 432.4v3.5h3v-3.5z" fill="#ef5350" stroke="none"/>
<path d="M747.5 431V435.5" stroke="#26a69a" fill="none"/>
<path d="M746 431.6v3.3h3v-3.3z" fill="#26a69a" stroke="none"/>
<path d="M749.5 429.8V434.3" stroke="#ef5350" fill="none"/>
<path d="M748 430.1v3.3h3v-3.3z" fill="#ef5350" stroke="none"/>
<path d="M751.5 423.3V436.9" stroke="#26a69a" fill="none"/>
<path d="M750 424.1v9.8h3v-9.8z" fill="#26a69a" stroke="none"/>
<path d="M754.5 418V431.7" stroke="#ef5350" fill="none"/>
<path d="M753 424.1v6.8h3v-6.8z" fill="#ef5350" stroke="none"/>
<path d="M756.5 422.1V428.4M758.5 416.5V425.1M760.5 413.2V424.2M762.5 417.9V423.1" stroke="#26a69a" fill="none"/>
<path d="M755 422.5v4.8h3v-4.8zM757 419.8v4.2h3v-4.2zM759 419.2v3.6h3v-3.6zM761 418.8v3.5h3v-3.5z" fill="#26a69a" stroke="none"/>
<path d="M764.5 419.5V431.6" stroke="#ef5350" fill="none"/>
<path d="M763 419.5v4.5h3v-4.5z" fill="#ef5350" stroke="none"/>
<path d="M766.5 406.8V425.1M768.5 404.1V411.3M770.5 399.2V408.4M772.5 402.2V408.4M774.5 393.3V405.1" stroke="#26a69a" fill="none"/>
<path d="M765 407.5v16.6h3v-16.6zM767 405.6v4.1h3v-4.1zM769 404.1v3.6h3v-3.6zM771 403.2v3.9h3v-3.9zM773 394.6v9.1h3v-9.1z" fill="#26a69a" stroke="none"/>
<path d="M777.5 393.2V403.7" stroke="#ef5350" fill="none"/>
<path d="M776 394.6v4.5h3v-4.5z" fill="#ef5350" stroke="none"/>
<path d="M779.5 383.3V397.3M781.5 387V393.3M783.5 347.4V390.1" stroke="#26a69a" fill="none"/>
<path d="M778 391.6v5.3h3v-5.3zM780 387.8v5.3h3v-5.3zM782 358.4v30.2h3v-30.2z" fill="#26a69a" stroke="none"/>
<path d="M785.5 354.9V369" stroke="#ef5350" fill="none"/>
<path d="M784 358.4v3.8h3v-3.8z" fill="#ef5350" stroke="none"/>
<path d="M787.5 356.1V363.5" stroke="#26a69a" fill="none"/>
<path d="M786 359.2v4.2h3v-4.2z" fill="#26a69a" stroke="none"/>
<path d="M789.5 356.1V379.3M791.5 368.6V389.6M793.5 374.6V418" stroke="#ef5350" fill="none"/>
<path d="M788 359.9v18.9h3v-18.9zM790 369.7v15.1h3v-15.1zM792 375.8v35.5h3v-35.5z" fill="#ef5350" stroke="none"/>
<path d="M795.5 404.3V410.5M798.5 402.7V408.6" stroke="#26a69a" fill="none"/>
<path d="M794 404.4v6h3v-6zM797 403.7v4.5h3v-4.5z" fill="#26a69a" stroke="none"/>
<path d="M800.5 401.1V415.8" stroke="#ef5350" fill="none"/>
<path d="M799 402.9v12.8h3v-12.8z" fill="#ef5350" stroke="none"/>
<path d="M802.5 406.9V423.3M804.5 396.9V409.5" stroke="#26a69a" fill="none"/>
<path d="M801 407.5v8.3h3v-8.3zM803 402.2v6h3v-6z" fill="#26a69a" stroke="none"/>
<path d="M806.5 401.1V419.7M808.5 411.3V429.5M810.5 422.7V434.9" stroke="#ef5350" fill="none"/>
<path d="M805 402.2v17.4h3v-17.4zM807 412v16.6h3v-16.6zM809 424.1v8.3h3v-8.3z" fill="#ef5350" stroke="none"/>
<path d="M812.5 420.1V434.1M814.5 399.2V426.8M816.5 404.1V410.6" stroke="#26a69a" fill="none"/>
<path d="M811 420.3v12.8h3v-12.8zM813 406.7v18.9h3v-18.9zM815 405.6v4.1h3v-4.1z" fill="#26a69a" stroke="none"/>
<path d="M818.5 404.1V416" stroke="#ef5350" fill="none"/>
<path d="M817 406.7v8.3h3v-8.3z" fill="#ef5350" stroke="none"/>
<path d="M820.5 411V417.3" stroke="#26a69a" fill="none"/>
<path d="M819 411.2v4.5h3v-4.5z" fill="#26a69a" stroke="none"/>
<path d="M823.5 407.9V412.3M825.5 408.9V414.2" stroke="#ef5350" fill="none"/>
<path d="M822 409v3.3h3v-3.3zM824 409.7v3h3v-3z" fill="#ef5350" stroke="none"/>
<path d="M827.5 405.9V415.8" stroke="#26a69a" fill="none"/>
<path d="M826 407.5v3.8h3v-3.8z" fill="#26a69a" stroke="none"/>
<path d="M829.5 403.3V408.6" stroke="#ef5350" fill="none"/>
<path d="M828 403.7v3.8h3v-3.8z" fill="#ef5350" stroke="none"/>
<path d="M831.5 387.4V407.9" stroke="#26a69a" fill="none"/>
<path d="M830 388.6v18.9h3v-18.9z" fill="#26a69a" stroke="none"/>
<path d="M833.5 382.1V396.8" stroke="#ef5350" fill="none"/>
<path d="M832 389.3v6.8h3v-6.8z" fill="#ef5350" stroke="none"/>
<path d="M835.5 389.7V395.7M837.5 371.3V396" stroke="#26a69a" fill="none"/>
<path d="M834 390.8v4.5h3v-4.5zM836 372v23.4h3v-23.4z" fill="#26a69a" stroke="none"/>
<path d="M839.5 359.2V408.2" stroke="#ef5350" fill="none"/>
<path d="M838 372.7v32.5h3v-32.5z" fill="#ef5350" stroke="none"/>
<path d="M841.5 367.9V413.2M844.5 380V391.5" stroke="#26a69a" fill="none"/>
<path d="M840 386.3v6h3v-6zM843 387.1v3.8h3v-3.8z" fill="#26a69a" stroke="none"/>
<path d="M846.5 384.8V393.1M848.5 386.2V391.4M850.5 386.5V394.2M852.5 384.8V402.9" stroke="#ef5350" fill="none"/>
<path d="M845 387.8v3.3h3v-3.3zM847 386.3v3.8h3v-3.8zM849 387.8v6h3v-6zM851 386.3v14.3h3v-14.3z" fill="#ef5350" stroke="none"/>
<path d="M854.5 391.4V397.6M856.5 384.1V394.6" stroke="#26a69a" fill="none"/>
<path d="M853 392.4v4.5h3v-4.5zM855 388.6v4.5h3v-4.5z" fill="#26a69a" stroke="none"/>
<path d="M858.5 385.8V400M860.5 396.3V402.9M862.5 397.9V405.6" stroke="#ef5350" fill="none"/>
<path d="M857 387.1v12.8h3v-12.8zM859 396.9v4.5h3v-4.5zM861 399.2v4.5h3v-4.5z" fill="#ef5350" stroke="none"/>
<path d="M864.5 391.2V404.2M866.5 390.8V398.7M868.5 390.7V396.1M870.5 357.4V392.8M872.5 338V362.2" stroke="#26a69a" fill="none"/>
<path d="M863 394.6v9.1h3v-9.1zM865 393.1v4.5h3v-4.5zM867 391.2v3.9h3v-3.9zM869 357.6v34.7h3v-34.7zM871 339.5v22.6h3v-22.6z" fill="#26a69a" stroke="none"/>
<path d="M875.5 337.9V350.2" stroke="#ef5350" fill="none"/>
<path d="M874 339.2v10.1h3v-10.1z" fill="#ef5350" stroke="none"/>
<path d="M877.5 225V349.5M879.5 262.4V280.6M881.5 261.9V269.2" stroke="#26a69a" fill="none"/>
<path d="M876 280.5v68.1h3v-68.1zM878 263.2v17.3h3v-17.3zM880 262v6h3v-6z" fill="#26a69a" stroke="none"/>
<path d="M883.5 249.1V268.4" stroke="#ef5350" fill="none"/>
<path d="M882 262v6.1h3v-6.1z" fill="#ef5350" stroke="none"/>
<path d="M885.5 261.9V280.5" stroke="#26a69a" fill="none"/>
<path d="M884 263v7h3v-7z" fill="#26a69a" stroke="none"/>
<path d="M887.5 261.7V269.2M888.5 261V273.9" stroke="#ef5350" fill="none"/>
<path d="M886 262v6h3v-6zM887 262v11.1h3v-11.1z" fill="#ef5350" stroke="none"/>
<path d="M890.5 249.8V274.3M892.5 249V255.9M894.5 226.2V254.4" stroke="#26a69a" fill="none"/>
<path d="M889 251v22.1h3v-22.1zM891 250.4v5.3h3v-5.3zM893 236.8v17.4h3v-17.4z" fill="#26a69a" stroke="none"/>
<path d="M896.5 231.2V243.5M898.5 236.8V249.6" stroke="#ef5350" fill="none"/>
<path d="M895 237.5v4.5h3v-4.5zM897 238.3v9.1h3v-9.1z" fill="#ef5350" stroke="none"/>
<path d="M901.5 233.6V249.1M903.5 163.3V237.8" stroke="#26a69a" fill="none"/>
<path d="M900 234.5v13.6h3v-13.6zM902 187.7v49.1h3v-49.1z" fill="#26a69a" stroke="none"/>
<path d="M906.5 180.9V213.5M908.5 209.6V260" stroke="#ef5350" fill="none"/>
<path d="M905 187v26.4h3v-26.4zM907 210.4v47.5h3v-47.5z" fill="#ef5350" stroke="none"/>
<path d="M911.5 240V260M913.5 203.1V243.8M915.5 204.3V230.1M917.5 206.5V240.6" stroke="#26a69a" fill="none"/>
<path d="M910 240.6v18.1h3v-18.1zM912 216.4v27.2h3v-27.2zM914 208.9v19.6h3v-19.6zM916 207.4v7.5h3v-7.5z" fill="#26a69a" stroke="none"/>
<path d="M919.5 207.6V227" stroke="#ef5350" fill="none"/>
<path d="M918 208.9v9.1h3v-9.1z" fill="#ef5350" stroke="none"/>
<path d="M921.5 201V218.7" stroke="#26a69a" fill="none"/>
<path d="M920 207.4v10.6h3v-10.6z" fill="#26a69a" stroke="none"/>
<path d="M923.5 205.8V210" stroke="#ef5350" fill="none"/>
<path d="M922 206.6v3h3v-3z" fill="#ef5350" stroke="none"/>
<path d="M925.5 168.9V207.4" stroke="#26a69a" fill="none"/>
<path d="M924 180.2v26.9h3v-26.9z" fill="#26a69a" stroke="none"/>
<path d="M927.5 165.1V193M929.5 179.5V196" stroke="#ef5350" fill="none"/>
<path d="M926 180.2v12.1h3v-12.1zM928 180.9v13.6h3v-13.6z" fill="#ef5350" stroke="none"/>
<path d="M931.5 189.7V200.6" stroke="#26a69a" fill="none"/>
<path d="M930 190v4.5h3v-4.5z" fill="#26a69a" stroke="none"/>
<path d="M934.5 182V201" stroke="#ef5350" fill="none"/>
<path d="M933 190.8v5.3h3v-5.3z" fill="#ef5350" stroke="none"/>
<path d="M936.5 176.5V196.6M938.5 166.9V179" stroke="#26a69a" fill="none"/>
<path d="M935 177.2v18.1h3v-18.1zM937 172.6v6h3v-6z" fill="#26a69a" stroke="none"/>
<path d="M940.5 171.2V188.9" stroke="#ef5350" fill="none"/>
<path d="M939 172.6v10.6h3v-10.6z" fill="#ef5350" stroke="none"/>
<path d="M942.5 144V187M944.5 147V161.5M946.5 133.5V153M948.5 131.7V141.8M950.5 113.9V141M952.5 104.1V119.6M954.5 77.6V115.5" stroke="#26a69a" fill="none"/>
<path d="M941 153v29.5h3v-29.5zM943 148v12h3v-12zM945 137.3v14.3h3v-14.3zM947 132v6.8h3v-6.8zM949 116.1v20.4h3v-20.4zM951 104.8v13.6h3v-13.6zM953 78.4v37h3v-37z" fill="#26a69a" stroke="none"/>
<path d="M957.5 69.3V134.2" stroke="#ef5350" fill="none"/>
<path d="M956 79.9v44.5h3v-44.5z" fill="#ef5350" stroke="none"/>
<path d="M959.5 85.5V125.6" stroke="#26a69a" fill="none"/>
<path d="M958 85.9v38.5h3v-38.5z" fill="#26a69a" stroke="none"/>
<path d="M961.5 81V108.7M963.5 98.4V111.5" stroke="#ef5350" fill="none"/>
<path d="M960 94.2v13.6h3v-13.6zM962 98.8v12.1h3v-12.1z" fill="#ef5350" stroke="none"/>
<path d="M965.5 87.9V121.7" stroke="#26a69a" fill="none"/>
<path d="M964 95v15.8h3v-15.8z" fill="#26a69a" stroke="none"/>
<path d="M967.5 79.2V106.9M969.5 93.2V162.9M971.5 114.4V130.2" stroke="#ef5350" fill="none"/>
<path d="M966 95v11.3h3v-11.3zM968 94.2v32.5h3v-32.5zM970 114.6v14.3h3v-14.3z" fill="#ef5350" stroke="none"/>
<path d="M973.5 119.9V127.7" stroke="#26a69a" fill="none"/>
<path d="M972 122.2v4.5h3v-4.5z" fill="#26a69a" stroke="none"/>
<path d="M975.5 119.9V147M977.5 138.4V162.9M980.5 153.7V192.3" stroke="#ef5350" fill="none"/>
<path d="M974 122.9v22.6h3v-22.6zM976 139.5v18.1h3v-18.1zM979 155.3v32.5h3v-32.5z" fill="#ef5350" stroke="none"/>
<path d="M983.5 168.9V190" stroke="#26a69a" fill="none"/>
<path d="M982 170.4v15.8h3v-15.8z" fill="#26a69a" stroke="none"/>
<path d="M986.5 158.3V182M988.5 174.8V197.5" stroke="#ef5350" fill="none"/>
<path d="M985 171.1v10.6h3v-10.6zM987 174.9v18.1h3v-18.1z" fill="#ef5350" stroke="none"/>
<path d="M991.5 150.8V193.4" stroke="#26a69a" fill="none"/>
<path d="M990 155.3v37.7h3v-37.7z" fill="#26a69a" stroke="none"/>
<path d="M994.5 152.3V171M996.5 163.7V176.4M998.5 170.8V176.2" stroke="#ef5350" fill="none"/>
<path d="M993 156v13.6h3v-13.6zM995 164.3v9.1h3v-9.1zM997 171.1v4.5h3v-4.5z" fill="#ef5350" stroke="none"/>
<path d="M1000.5 163.6V180.2" stroke="#26a69a" fill="none"/>
<path d="M999 168.1v4.5h3v-4.5z" fill="#26a69a" stroke="none"/>
<path d="M1003.5 162.1V178.2M1005.5 175.1V185.5M1007.5 177.8V185.1M1009.5 175.7V200.6" stroke="#ef5350" fill="none"/>
<path d="M1002 166.6v10.6h3v-10.6zM1004 175.7v5h3v-5zM1006 178.7v5.3h3v-5.3zM1008 177.2v19.6h3v-19.6z" fill="#ef5350" stroke="none"/>
<path d="M1011.5 185.2V199.8M1013.5 181.7V190.2" stroke="#26a69a" fill="none"/>
<path d="M1010 186.2v10.6h3v-10.6zM1012 184.7v4.5h3v-4.5z" fill="#26a69a" stroke="none"/>
<path d="M1015.5 178.2V208.9" stroke="#ef5350" fill="none"/>
<path d="M1014 186.2v9.1h3v-9.1z" fill="#ef5350" stroke="none"/>
<path d="M1017.5 174.9V195.9M1019.5 171.1V185.1M1021.5 172.7V180.6M1023.5 170.8V177.6M1026.5 165.7V176.4M1028.5 119.1V170.4" stroke="#26a69a" fill="none"/>
<path d="M1016 182.5v12.8h3v-12.8zM1018 178.7v5.3h3v-5.3zM1020 174.2v5.3h3v-5.3zM1022 171.1v5h3v-5zM1025 165.8v6h3v-6zM1027 126.6v43h3v-43z" fill="#26a69a" stroke="none"/>
<path d="M1030.5 123.3V146.9M1032.5 135.2V154.3M1034.5 149.9V173.4M1036.5 149.2V162.1" stroke="#ef5350" fill="none"/>
<path d="M1029 127.4v18.9h3v-18.9zM1031 135.7v18.1h3v-18.1zM1033 150.8v6h3v-6zM1035 152.3v8.3h3v-8.3z" fill="#ef5350" stroke="none"/>
<path d="M1038.5 150.8V158.7" stroke="#26a69a" fill="none"/>
<path d="M1037 153v4.5h3v-4.5z" fill="#26a69a" stroke="none"/>
<path d="M1040.5 152.3V185.2" stroke="#ef5350" fill="none"/>
<path d="M1039 157v13.3h3v-13.3z" fill="#ef5350" stroke="none"/>
<path d="M1042.5 164.4V174.2" stroke="#26a69a" fill="none"/>
<path d="M1041 165.1v4.5h3v-4.5z" fill="#26a69a" stroke="none"/>
<path d="M1044.5 159.1V175.7" stroke="#ef5350" fill="none"/>
<path d="M1043 164.3v7.5h3v-7.5z" fill="#ef5350" stroke="none"/>
<path d="M1047.5 163.6V173.3" stroke="#26a69a" fill="none"/>
<path d="M1046 164.3v8.3h3v-8.3z" fill="#26a69a" stroke="none"/>
<path d="M1049.5 164V173M1051.5 171.7V258.8" stroke="#ef5350" fill="none"/>
<path d="M1048 165.1v6.8h3v-6.8zM1050 171.9v60h3v-60z" fill="#ef5350" stroke="none"/>
<path d="M1053.5 214V235" stroke="#26a69a" fill="none"/>
<path d="M1052 227.6v2.5h3v-2.5z" fill="#26a69a" stroke="none"/>
<path d="M1055.5 224.8V233M1057.5 227.9V256" stroke="#ef5350" fill="none"/>
<path d="M1054 227v4.9h3v-4.9zM1056 228.2v24.7h3v-24.7z" fill="#ef5350" stroke="none"/>
<path d="M1059.5 243.7V266.5M1061.5 232.9V252.2M1063.5 227.2V240.4M1065.5 220.2V232.8" stroke="#26a69a" fill="none"/>
<path d="M1058 244.3v8.6h3v-8.6zM1060 234.4v17.3h3v-17.3zM1062 227.6v11.7h3v-11.7zM1064 227v4.9h3v-4.9z" fill="#26a69a" stroke="none"/>
<path d="M1067.5 215.9V246.1M1069.5 231.9V251.5M1071.5 240.4V256.3M1073.5 251.5V263.1M1074.5 257V267.4" stroke="#ef5350" fill="none"/>
<path d="M1066 228.8v13h3v-13zM1068 239.9v10.5h3v-10.5zM1070 241.8v13.6h3v-13.6zM1072 252.9v8.6h3v-8.6zM1073 257.8v8h3v-8z" fill="#ef5350" stroke="none"/>
<path d="M1076.5 245.5V264.2M1078.5 233.8V254.3" stroke="#26a69a" fill="none"/>
<path d="M1075 246.7v17.3h3v-17.3zM1077 238.1v16h3v-16z" fill="#26a69a" stroke="none"/>
<path d="M1080.5 233.1V244.1" stroke="#ef5350" fill="none"/>
<path d="M1079 238.1v5.6h3v-5.6z" fill="#ef5350" stroke="none"/>
<path d="M1082.5 227V244.1M1084.5 224.8V235.3M1086.5 223V232.2" stroke="#26a69a" fill="none"/>
<path d="M1081 231.9v11.7h3v-11.7zM1083 230.1v3.7h3v-3.7zM1085 228v3h3v-3z" fill="#26a69a" stroke="none"/>
<path d="M1088.5 221.8V235" stroke="#ef5350" fill="none"/>
<path d="M1087 227.6v2.5h3v-2.5z" fill="#ef5350" stroke="none"/>
<path d="M1090.5 220.8V239.1M1093.5 189.7V236.9M1095.5 181V192.6M1097.5 155.4V189.3M1099.5 132V160M1101.5 79.8V141.8" stroke="#26a69a" fill="none"/>
<path d="M1089 226.4v3.3h3v-3.3zM1092 190v39.4h3v-39.4zM1094 182.5v9.5h3v-9.5zM1096 156.8v31.7h3v-31.7zM1098 140v19.8h3v-19.8zM1100 95.9v45.7h3v-45.7z" fill="#26a69a" stroke="none"/>
<path d="M1103.5 73.9V108.6M1105.5 104.4V131" stroke="#ef5350" fill="none"/>
<path d="M1102 95.9v11.7h3v-11.7zM1104 105.7v16h3v-16z" fill="#ef5350" stroke="none"/>
<path d="M1107.5 104.8V128" stroke="#26a69a" fill="none"/>
<path d="M1106 107v14.8h3v-14.8z" fill="#26a69a" stroke="none"/>
<path d="M1109.5 107V123" stroke="#ef5350" fill="none"/>
<path d="M1108 113.8v6.2h3v-6.2z" fill="#ef5350" stroke="none"/>
<path d="M1111.5 112.9V126.7" stroke="#26a69a" fill="none"/>
<path d="M1110 116.9v4.3h3v-4.3z" fill="#26a69a" stroke="none"/>
<path d="M1113.5 112.9V144M1116.5 124.9V163" stroke="#ef5350" fill="none"/>
<path d="M1112 117.5v20.4h3v-20.4zM1115 137.8v19.8h3v-19.8z" fill="#ef5350" stroke="none"/>
<path d="M1118.5 130.5V157.2M1120.5 139.7V146.7" stroke="#26a69a" fill="none"/>
<path d="M1117 140.8v15.9h3v-15.9zM1119 142.2v3.7h3v-3.7z" fill="#26a69a" stroke="none"/>
<path d="M1122.5 137.2V145.9" stroke="#ef5350" fill="none"/>
<path d="M1121 141.8v2.2h3v-2.2z" fill="#ef5350" stroke="none"/>
<path d="M1124.5 137.8V143.4" stroke="#26a69a" fill="none"/>
<path d="M1123 140.1v3h3v-3z" fill="#26a69a" stroke="none"/>
<path d="M1126.5 133.5V153.3" stroke="#ef5350" fill="none"/>
<path d="M1125 139.1v3.1h3v-3.1z" fill="#ef5350" stroke="none"/>
<path d="M1128.5 129V147.7" stroke="#26a69a" fill="none"/>
<path d="M1127 132.3v9.9h3v-9.9z" fill="#26a69a" stroke="none"/>
<path d="M1130.5 131V139.8M1132.5 136.4V152.8M1134.5 145.5V168.9" stroke="#ef5350" fill="none"/>
<path d="M1129 132.3v6.8h3v-6.8zM1131 137.8v13.6h3v-13.6zM1133 146.5v18.3h3v-18.3z" fill="#ef5350" stroke="none"/>
<path d="M1136.5 148.3V166.6" stroke="#26a69a" fill="none"/>
<path d="M1135 148.7v16h3v-16z" fill="#26a69a" stroke="none"/>
<path d="M1139.5 147.8V155.8" stroke="#ef5350" fill="none"/>
<path d="M1138 151.4v3.6h3v-3.6z" fill="#ef5350" stroke="none"/>
<path d="M1141.5 150.4V159.4M1143.5 144.3V156.7" stroke="#26a69a" fill="none"/>
<path d="M1140 150.5v3.6h3v-3.6zM1142 148.7v3.6h3v-3.6z" fill="#26a69a" stroke="none"/>
<path d="M1145.5 149.1V153.5" stroke="#ef5350" fill="none"/>
<path d="M1144 150v2.9h3v-2.9z" fill="#ef5350" stroke="none"/>
<path d="M1147.5 147.9V153.5M1149.5 121.3V152.2" stroke="#26a69a" fill="none"/>
<path d="M1146 148.7v3.6h3v-3.6zM1148 132.7v18.7h3v-18.7z" fill="#26a69a" stroke="none"/>
<path d="M1151.5 130.3V155M1153.5 139V148.3M1156.5 140.6V153.5M1158.5 148.5V163" stroke="#ef5350" fill="none"/>
<path d="M1150 131.8v8.9h3v-8.9zM1152 139.8v7.1h3v-7.1zM1155 141.6v11.6h3v-11.6zM1157 149.6v8.9h3v-8.9z" fill="#ef5350" stroke="none"/>
<path d="M1160.5 154.6V158.8" stroke="#26a69a" fill="none"/>
<path d="M1159 155v3.6h3v-3.6z" fill="#26a69a" stroke="none"/>
<path d="M1162.5 147.8V165.8M1164.5 163.7V249.8" stroke="#ef5350" fill="none"/>
<path d="M1161 154.1v10.7h3v-10.7zM1163 164.8v75.8h3v-75.8z" fill="#ef5350" stroke="none"/>
<path d="M1166.5 202.2V246.8M1168.5 204.6V221.3M1170.5 193.8V210.7" stroke="#26a69a" fill="none"/>
<path d="M1165 219.2v21.4h3v-21.4zM1167 204.9v16h3v-16zM1169 200.4v9.8h3v-9.8z" fill="#26a69a" stroke="none"/>
<path d="M1172.5 198.9V211.1" stroke="#ef5350" fill="none"/>
<path d="M1171 200.4v5.3h3v-5.3z" fill="#ef5350" stroke="none"/>
</g>
</g>
<path d="M91.5 383.5H299a7.5 7.5 0 0 1 7.5 7.5V420a7.5 7.5 0 0 1 -7.5 7.5H203.3L132.4 569.2L186.7 427.5H91.5a7.5 7.5 0 0 1 -7.5 -7.5V391a7.5 7.5 0 0 1 7.5 -7.5z" fill="#991515" fill-opacity="0.5" stroke="#991515" stroke-width="1.8" stroke-linejoin="round"/>
<g font-family="'DejaVu Sans','Liberation Sans',sans-serif" font-size="12" fill="#ebe2e2" stroke="#ebe2e2" stroke-width="0.2">
<text x="94.8" y="402.9" textLength="197.2" lengthAdjust="spacingAndGlyphs">Doesn't look like 5 wave impulse</text>
<text x="94.8" y="414.9" textLength="129.4" lengthAdjust="spacingAndGlyphs">But what market did?</text>
</g>
<rect x="7" y="664" width="1260" height="28" fill="#131722"/>
<rect x="1207" y="44" width="60" height="648" fill="#131722"/>
<path d="M7 664.5H1267M1207.5 44V692" stroke="#989898" stroke-width="1" fill="none"/>
<path d="M1208 66.5h4.5M1208 101.5h4.5M1208 135.5h4.5M1208 169.5h4.5M1208 204.5h4.5M1208 238.5h4.5M1208 272.5h4.5M1208 307.5h4.5M1208 341.5h4.5M1208 375.5h4.5M1208 410.5h4.5M1208 444.5h4.5M1208 478.5h4.5M1208 513.5h4.5M1208 547.5h4.5M1208 582.5h4.5M1208 616.5h4.5M1208 650.5h4.5" stroke="#989898" stroke-width="1" fill="none"/>
<g font-family="'Liberation Sans',sans-serif" font-size="12.2" fill="#d4d4d7" stroke="#d4d4d7" stroke-width="0.3">
<text x="1216.6" y="70.9" textLength="41.6" lengthAdjust="spacingAndGlyphs">1440.00</text>
<text x="1216.6" y="105.9" textLength="41.6" lengthAdjust="spacingAndGlyphs">1430.00</text>
<text x="1216.6" y="139.9" textLength="41.6" lengthAdjust="spacingAndGlyphs">1420.00</text>
<text x="1216.6" y="173.9" textLength="41.6" lengthAdjust="spacingAndGlyphs">1410.00</text>
<text x="1216.6" y="208.9" textLength="41.6" lengthAdjust="spacingAndGlyphs">1400.00</text>
<text x="1216.6" y="242.9" textLength="41.6" lengthAdjust="spacingAndGlyphs">1390.00</text>
<text x="1216.6" y="276.9" textLength="41.6" lengthAdjust="spacingAndGlyphs">1380.00</text>
<text x="1216.6" y="311.9" textLength="41.6" lengthAdjust="spacingAndGlyphs">1370.00</text>
<text x="1216.6" y="345.9" textLength="41.6" lengthAdjust="spacingAndGlyphs">1360.00</text>
<text x="1216.6" y="379.9" textLength="41.6" lengthAdjust="spacingAndGlyphs">1350.00</text>
<text x="1216.6" y="414.9" textLength="41.6" lengthAdjust="spacingAndGlyphs">1340.00</text>
<text x="1216.6" y="448.9" textLength="41.6" lengthAdjust="spacingAndGlyphs">1330.00</text>
<text x="1216.6" y="482.9" textLength="41.6" lengthAdjust="spacingAndGlyphs">1320.00</text>
<text x="1216.6" y="517.9" textLength="41.6" lengthAdjust="spacingAndGlyphs">1310.00</text>
<text x="1216.6" y="551.9" textLength="41.6" lengthAdjust="spacingAndGlyphs">1300.00</text>
<text x="1216.6" y="586.9" textLength="41.6" lengthAdjust="spacingAndGlyphs">1290.00</text>
<text x="1216.6" y="620.9" textLength="41.6" lengthAdjust="spacingAndGlyphs">1280.00</text>
<text x="1216.6" y="654.9" textLength="41.6" lengthAdjust="spacingAndGlyphs">1270.00</text>
</g>
<rect x="1207" y="196" width="60" height="18" fill="#ef5350"/>
<path d="M1207 205.5h4.5" stroke="#fff" stroke-width="1"/>
<text x="1216.6" y="209.3" font-family="'Liberation Sans',sans-serif" font-size="12.2" fill="#fff" stroke="#fff" stroke-width="0.3" textLength="41.6" lengthAdjust="spacingAndGlyphs">1399.50</text>
<clipPath id="c1"><rect x="1207" y="640" width="60" height="24"/></clipPath>
<g clip-path="url(#c1)"><rect x="1207" y="654.5" width="60" height="18" fill="#80cfdf"/>
<path d="M1207 663.5h4" stroke="#131722" stroke-width="1"/>
<text x="1217" y="666.9" font-family="'Liberation Sans',sans-serif" font-size="12.2" fill="#10131c" stroke="#10131c" stroke-width="0.3" textLength="40" lengthAdjust="spacingAndGlyphs">1266.22</text></g>
<path d="M7 664.5H1267" stroke="#989898" stroke-width="1" fill="none"/>
<path d="M77.5 665v3.5M177.5 665v3.5M303.5 665v3.5M428.5 665v3.5M550.5 665v3.5M677.5 665v3.5M803.5 665v3.5M928.5 665v3.5M1054.5 665v3.5M1177.5 665v3.5" stroke="#989898" stroke-width="1" fill="none"/>
<g font-family="'Liberation Sans',sans-serif" font-size="12" font-weight="bold" fill="#d4d4d7" text-anchor="middle">
<text x="77.4" y="684.3" textLength="6.4" lengthAdjust="spacingAndGlyphs">7</text>
<text x="177.6" y="684.3" textLength="12.8" lengthAdjust="spacingAndGlyphs">13</text>
<text x="303.5" y="684.3" textLength="12.8" lengthAdjust="spacingAndGlyphs">20</text>
<text x="428.5" y="684.3" textLength="12.8" lengthAdjust="spacingAndGlyphs">27</text>
<text x="550.2" y="684.3" textLength="20.5" lengthAdjust="spacingAndGlyphs">Jun</text>
<text x="677.6" y="684.3" textLength="13" lengthAdjust="spacingAndGlyphs">10</text>
<text x="803.6" y="684.3" textLength="12" lengthAdjust="spacingAndGlyphs">17</text>
<text x="928.4" y="684.3" textLength="12.6" lengthAdjust="spacingAndGlyphs">24</text>
<text x="1054.1" y="684.3" textLength="17.6" lengthAdjust="spacingAndGlyphs">Jul</text>
<text x="1177.3" y="684.3" textLength="6.4" lengthAdjust="spacingAndGlyphs">8</text>
</g>
<g font-family="'Liberation Sans',sans-serif" font-size="12" fill="#000">
<text><tspan x="6.3" y="16.7" textLength="52.1" lengthAdjust="spacingAndGlyphs">Published</tspan> <tspan x="62.4" y="16.7" textLength="13.7" lengthAdjust="spacingAndGlyphs">on</tspan> <tspan x="78.6" y="16.7" textLength="101.3" lengthAdjust="spacingAndGlyphs">TradingView.com,</tspan> <tspan x="184.8" y="16.7" textLength="20.3" lengthAdjust="spacingAndGlyphs">July</tspan> <tspan x="207.9" y="16.7" textLength="17.7" lengthAdjust="spacingAndGlyphs">07,</tspan> <tspan x="229.1" y="16.7" textLength="26.9" lengthAdjust="spacingAndGlyphs">2019</tspan> <tspan x="259.9" y="16.7" textLength="49.8" lengthAdjust="spacingAndGlyphs">09:09:55</tspan> <tspan x="313.3" y="16.7" textLength="23.6" lengthAdjust="spacingAndGlyphs">UTC</tspan></text>
<text><tspan x="6.3" y="34.1" font-weight="bold" textLength="61.7" lengthAdjust="spacingAndGlyphs">TVC:GOLD,</tspan> <tspan x="72.3" y="34.1" font-weight="bold" textLength="20.7" lengthAdjust="spacingAndGlyphs">120</tspan> <tspan x="98.4" y="34.1" textLength="44.8" lengthAdjust="spacingAndGlyphs">1399.50</tspan> <tspan x="161.1" y="34.1" textLength="38.6" lengthAdjust="spacingAndGlyphs">−16.13</tspan> <tspan x="202.9" y="34.1" textLength="49.6" lengthAdjust="spacingAndGlyphs">(−1.14%)</tspan> <tspan x="256.9" y="34.1" font-weight="bold" textLength="13.4" lengthAdjust="spacingAndGlyphs">O:</tspan><tspan x="271.7" y="34.1" fill="#b01818" textLength="45.2" lengthAdjust="spacingAndGlyphs">1400.75</tspan> <tspan x="321.1" y="34.1" font-weight="bold" textLength="12.9" lengthAdjust="spacingAndGlyphs">H:</tspan><tspan x="335.7" y="34.1" fill="#b01818" textLength="44.9" lengthAdjust="spacingAndGlyphs">1401.00</tspan> <tspan x="385.1" y="34.1" font-weight="bold" textLength="9.7" lengthAdjust="spacingAndGlyphs">L:</tspan><tspan x="396.1" y="34.1" fill="#b01818" textLength="45.5" lengthAdjust="spacingAndGlyphs">1398.00</tspan> <tspan x="446.1" y="34.1" font-weight="bold" textLength="11" lengthAdjust="spacingAndGlyphs">C:</tspan><tspan x="458.6" y="34.1" fill="#b01818" textLength="45" lengthAdjust="spacingAndGlyphs">1399.50</tspan></text>
<path d="M146.8 25.2h11.3l-5.65 10.8z" fill="#9b0a0a"/>
</g>
<g font-family="'Liberation Sans',sans-serif" font-size="12">
<text><tspan x="6" y="716.1" fill="#111" textLength="72.9" lengthAdjust="spacingAndGlyphs">Created with</tspan> <tspan x="106" y="716.2" fill="#3aa9e2" textLength="70.8" lengthAdjust="spacingAndGlyphs">TradingView</tspan></text>
</g>
<path d="M84.6 717.8C82.6 717.8 81.8 715.6 81.9 713.9C82 711 84.2 709 86.8 709.3C87.2 706 89.8 703.4 92.9 703.4C95.2 703.4 97 704.5 98 705.7L102.2 708.4C104.5 710 105.6 712 105.4 714.3C105.2 716.6 103.8 717.8 102 717.8Z" fill="#58c2e8"/>
<path d="M81.6 716.3L90.5 709.5L96.1 716.2L103.4 707.6" stroke="#fff" stroke-width="1.6" fill="none" stroke-linejoin="miter"/>
</svg>
</body></html>
